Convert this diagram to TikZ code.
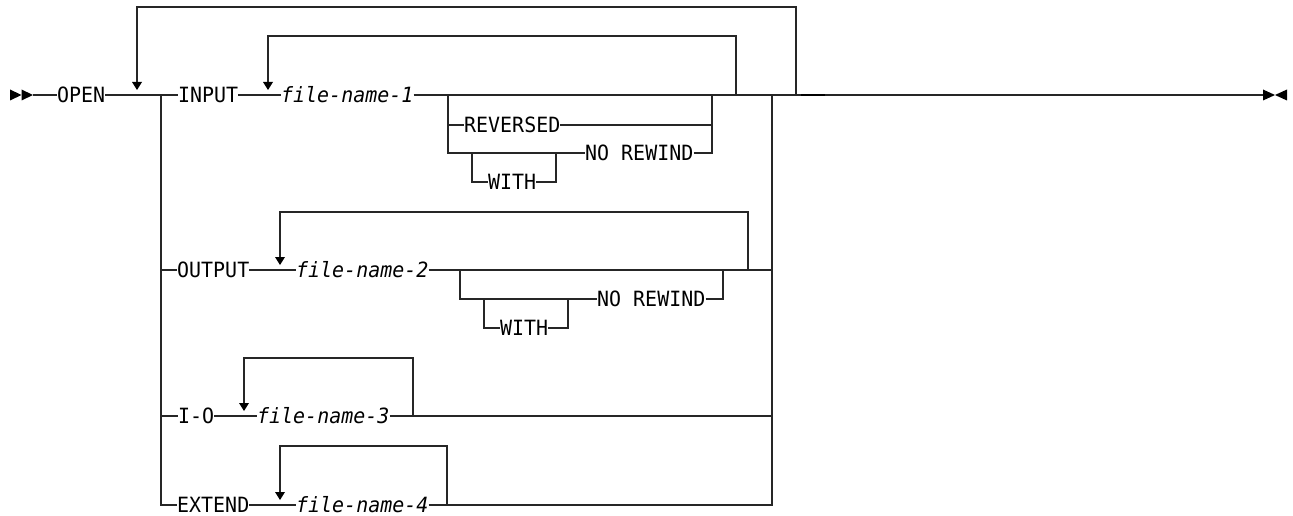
\documentclass[tikz,border=0pt]{standalone}
\usepackage{fontspec}
\setmonofont{DejaVu Sans Mono}[ItalicFont={DejaVu Sans Mono Oblique}, FakeStretch=0.95]
\begin{document}
\begin{tikzpicture}[x=1pt,y=-1pt,
  kw/.style={inner sep=0pt, anchor=west, text height=15.3pt, text depth=0pt,
    font=\ttfamily\fontsize{21}{21}\selectfont},
  var/.style={kw, font=\ttfamily\itshape\fontsize{21}{21}\selectfont},
  ln/.style={draw=black!85, line width=1.2pt},
  tri/.style={fill=black, draw=none}]
\useasboundingbox (0,0) rectangle (1293,516);

% text nodes
\node[kw]  (open)   at (57,95)   {OPEN};
\node[kw]  (input)  at (178,95)  {INPUT};
\node[var] (fn1)    at (281,95)  {file-name-1};
\node[kw]  (rev)    at (464,125) {REVERSED};
\node[kw]  (nr1)    at (585,153) {NO REWIND};
\node[kw]  (with1)  at (488,182) {WITH};
\node[kw]  (output) at (177,270) {OUTPUT};
\node[var] (fn2)    at (296,270) {file-name-2};
\node[kw]  (nr2)    at (597,299) {NO REWIND};
\node[kw]  (with2)  at (500,328) {WITH};
\node[kw]  (io)     at (178,416) {I-O};
\node[var] (fn3)    at (257,416) {file-name-3};
\node[kw]  (extend) at (177,505) {EXTEND};
\node[var] (fn4)    at (296,505) {file-name-4};

% junction coordinates
\coordinate (s)   at (33,95);
\coordinate (e)   at (1263,95);
\coordinate (bl)  at (161,95);
\coordinate (br)  at (772,95);

% start / end markers
\fill[tri] (10,89.5) -- (21.5,95) -- (10,100.5) -- cycle;
\fill[tri] (21.5,89.5) -- (33,95) -- (21.5,100.5) -- cycle;
\fill[tri] (1263,89.5) -- (1275,95) -- (1263,100.5) -- cycle;
\fill[tri] (1287,89.5) -- (1275,95) -- (1287,100.5) -- cycle;

% main line
\draw[ln] (s) -- (open.west);
\draw[ln] (open.east) -- (input.west);
\draw[ln] (input.east) -- (fn1.west);
\draw[ln] (fn1.east) -- (e);
\draw[line width=2pt, black] (801,95) -- (825,95);

% outer repeat loop
\coordinate (ol) at (796,95);
\draw[ln] (ol) |- (137,7) -- (137,82);
\fill[tri] (132,82) -- (142,82) -- (137,90) -- cycle;

% INPUT repeat loop
\coordinate (il) at (736,95);
\draw[ln] (il) |- (268,36) -- (268,82);
\fill[tri] (263,82) -- (273,82) -- (268,90) -- cycle;

% REVERSED / NO REWIND block (INPUT)
\draw[ln] (448,95) |- (rev.west);
\draw[ln] (rev.east) -| (712,95);
\draw[ln] (448,125) |- (nr1.west);
\draw[ln] (nr1.east) -| (712,125);
\draw[ln] (472,153) |- (with1.west);
\draw[ln] (with1.east) -| (556,153);

% left and right verticals
\draw[ln] (bl) |- (extend.west);
\draw[ln] (161,270) -- (output.west);
\draw[ln] (161,416) -- (io.west);
\draw[ln] (extend.east) -- (fn4.west);
\draw[ln] (fn4.east) -| (br);

% OUTPUT row
\draw[ln] (output.east) -- (fn2.west);
\draw[ln] (fn2.east) -- (772,270);
\draw[ln] (748,270) |- (280,212) -- (280,257);
\fill[tri] (275,257) -- (285,257) -- (280,265) -- cycle;
\draw[ln] (460,270) |- (nr2.west);
\draw[ln] (nr2.east) -| (723,270);
\draw[ln] (484,299) |- (with2.west);
\draw[ln] (with2.east) -| (568,299);

% I-O row
\draw[ln] (io.east) -- (fn3.west);
\draw[ln] (fn3.east) -- (772,416);
\draw[ln] (413,416) |- (244,358) -- (244,403);
\fill[tri] (239,403) -- (249,403) -- (244,411) -- cycle;

% EXTEND row
\draw[ln] (447,505) |- (280,446) -- (280,492);
\fill[tri] (275,492) -- (285,492) -- (280,500) -- cycle;
\end{tikzpicture}
\end{document}
